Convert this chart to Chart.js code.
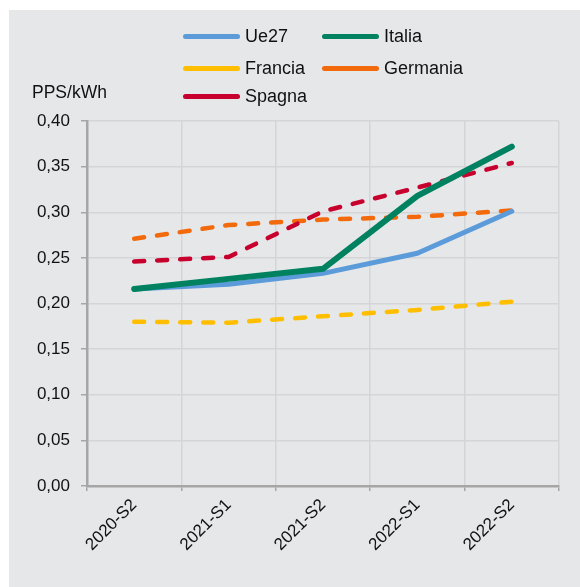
<!DOCTYPE html>
<html lang="it">
<head>
<meta charset="utf-8">
<title>Prezzo dell'energia elettrica – PPS/kWh</title>
<script src="https://cdn.jsdelivr.net/npm/chart.js@4/dist/chart.umd.min.js"></script>
<style>
  html, body { margin: 0; padding: 0; background: #ffffff; }
  body { width: 580px; height: 587px; position: relative; overflow: hidden;
         font-family: Arial, "Liberation Sans", sans-serif; }
  #panel { position: absolute; left: 9px; top: 10px; width: 571px; height: 577px; background: #e6e7e9; }
  #panel canvas { position: absolute; left: 0; top: 0; }
  .legend-item { position: absolute; height: 20px; display: flex; align-items: center;
                 font-size: 18px; color: #111; white-space: nowrap; }
  .legend-swatch { width: 57px; height: 5px; border-radius: 3px; margin-right: 5px; }
  #unit { position: absolute; left: 23px; top: 72px; font-size: 17.5px; color: #111; line-height: 20px; }
</style>
</head>
<body>
<div id="panel">
  <canvas id="chart" width="571" height="577"></canvas>
  <div id="unit">PPS/kWh</div>
</div>
<script>
// Semesters on the category axis
const periods = ['2020-S2', '2021-S1', '2021-S2', '2022-S1', '2022-S2'];

// Electricity price, PPS per kWh
const ue27     = [0.216, 0.221, 0.233, 0.255, 0.301];
const italia   = [0.216, 0.227, 0.238, 0.318, 0.372];
const francia  = [0.180, 0.179, 0.186, 0.193, 0.202];
const germania = [0.271, 0.286, 0.292, 0.295, 0.302];
const spagna   = [0.246, 0.251, 0.301, 0.327, 0.354];

// Value axis ticks
const yMin = 0, yMax = 0.40, yStep = 0.05;

const seriesNames  = ['Ue27', 'Italia', 'Francia', 'Germania', 'Spagna'];
const seriesData   = [ue27, italia, francia, germania, spagna];
const seriesColors = ['#5b9bd9', '#00815f', '#ffbf00', '#f26a0c', '#c8002d'];
const seriesWidths = [5, 6, 4.5, 4.5, 4.5];
const seriesDashed = [false, false, true, true, true];

// Draw order: dashed series first, solid lines above
const drawOrder = [3, 4, 2, 0, 1];

const datasets = seriesNames.map((name, i) => ({
  label: name,
  data: seriesData[i],
  borderColor: seriesColors[i],
  backgroundColor: seriesColors[i],
  borderWidth: seriesWidths[i],
  borderDash: seriesDashed[i] ? [10, 13] : [],
  borderCapStyle: 'round',
  borderJoinStyle: 'round',
  pointRadius: 0,
  pointHoverRadius: 0,
  tension: 0,
  fill: false,
  order: 5 - drawOrder.indexOf(i)
}));

const font = { family: 'Arial, "Liberation Sans", sans-serif', size: 17 };

new Chart(document.getElementById('chart'), {
  type: 'line',
  data: { labels: periods, datasets },
  options: {
    responsive: false,
    animation: false,
    layout: { padding: { top: 111, right: 21, left: 0, bottom: 0 } },
    plugins: { legend: { display: false }, tooltip: { enabled: false } },
    scales: {
      x: {
        offset: true,
        grid: { offset: true, color: '#d4d5d7', lineWidth: 1.5, tickColor: '#a6a6a6', tickLength: 5 },
        border: { color: '#a6a6a6', width: 2.5 },
        ticks: { color: '#111', font, minRotation: 45, maxRotation: 45, padding: 4 },
        afterFit: s => { s.height = 101; }
      },
      y: {
        min: yMin, max: yMax,
        grid: { color: '#d4d5d7', lineWidth: 1.5, tickColor: '#a6a6a6', tickLength: 6 },
        border: { color: '#a6a6a6', width: 2.5 },
        ticks: {
          stepSize: yStep, color: '#111', font, padding: 11,
          callback: v => Number(v).toFixed(2).replace('.', ',')
        },
        afterFit: s => { s.width = 78; }
      }
    }
  }
});

// Legend, laid out in two columns
const legendPos = [
  { x: 174, y: 16 }, { x: 313, y: 16 },
  { x: 174, y: 48 }, { x: 313, y: 48 },
  { x: 174, y: 76 }
];
const panel = document.getElementById('panel');
seriesNames.forEach((name, i) => {
  const item = document.createElement('div');
  item.className = 'legend-item';
  item.style.left = legendPos[i].x + 'px';
  item.style.top = legendPos[i].y + 'px';
  const sw = document.createElement('span');
  sw.className = 'legend-swatch';
  sw.style.background = seriesColors[i];
  const tx = document.createElement('span');
  tx.textContent = name;
  item.appendChild(sw);
  item.appendChild(tx);
  panel.appendChild(item);
});
</script>
</body>
</html>
